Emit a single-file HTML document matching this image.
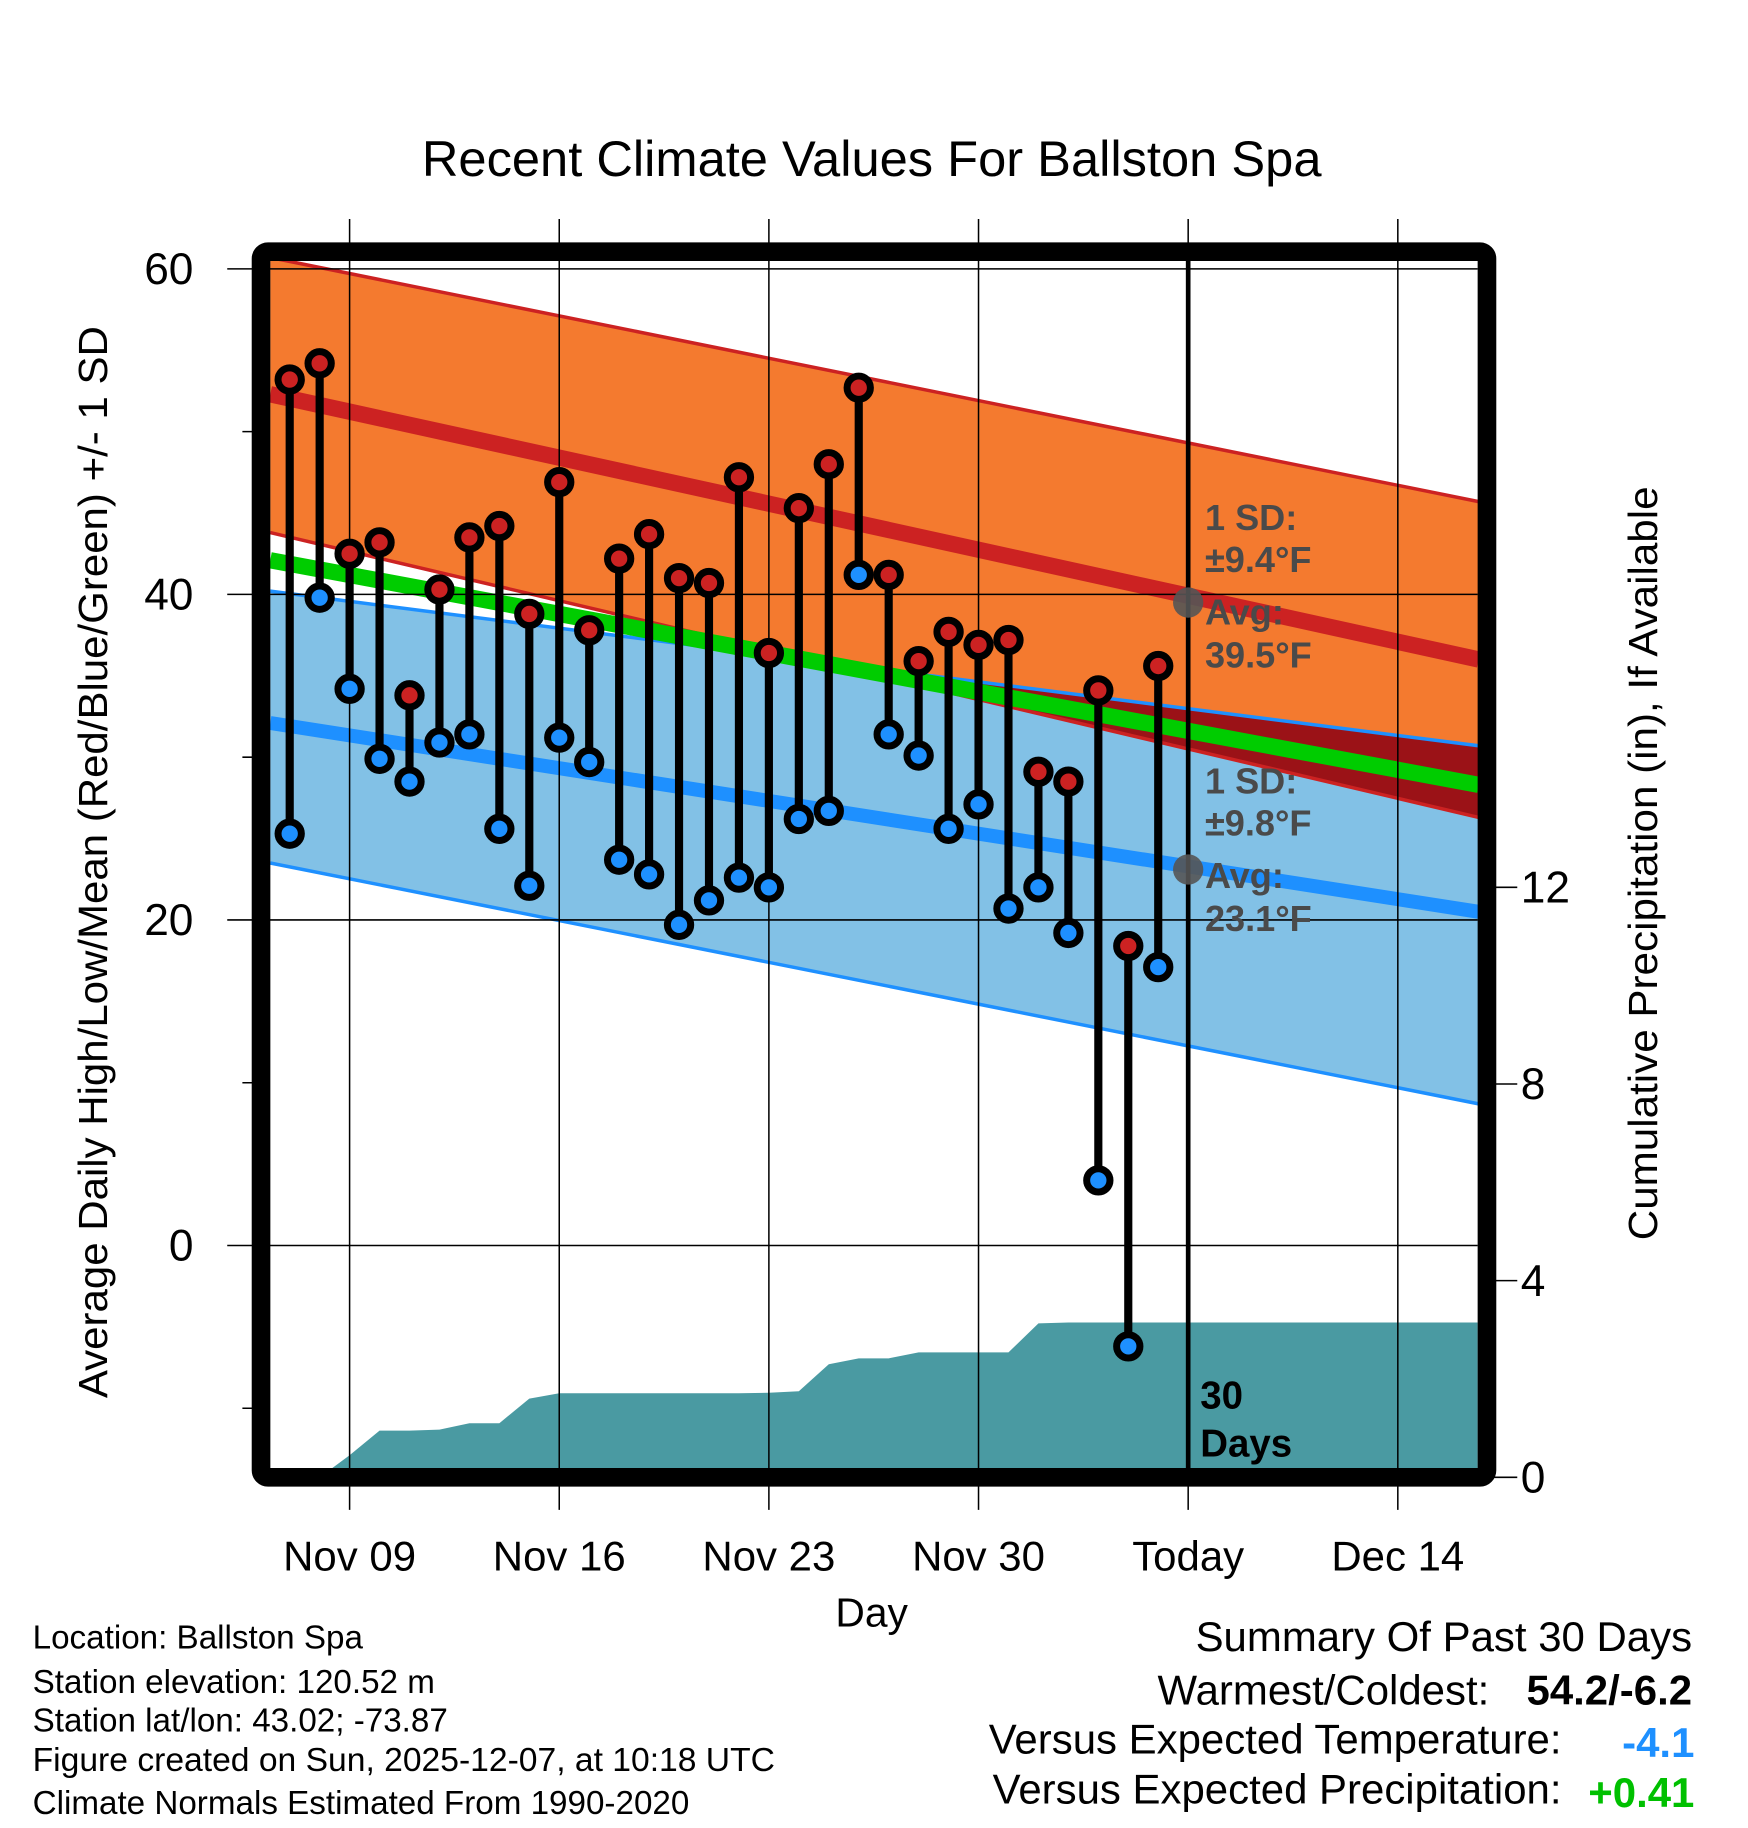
<!DOCTYPE html>
<html><head><meta charset="utf-8"><style>html,body{margin:0;padding:0;background:#fff}svg{display:block}text{font-family:"Liberation Sans",sans-serif}</style></head>
<body>
<svg id="chart" width="1748" height="1828" viewBox="0 0 1500 1569" preserveAspectRatio="none" xmlns="http://www.w3.org/2000/svg">
<text x="748" y="151" font-size="43" text-anchor="middle" textLength="772" lengthAdjust="spacingAndGlyphs">Recent Climate Values For Ballston Spa</text>
<g id="plot"></g>
<text transform="translate(92,740) rotate(-90)" font-size="35" text-anchor="middle" textLength="920" lengthAdjust="spacingAndGlyphs">Average Daily High/Low/Mean (Red/Blue/Green) +/- 1 SD</text>
<text transform="translate(1422,741) rotate(-90)" font-size="35" text-anchor="middle" textLength="647" lengthAdjust="spacingAndGlyphs">Cumulative Precipitation (in), If Available</text>
<text x="748" y="1396" font-size="35" text-anchor="middle">Day</text>
<g font-size="28.5">
<text x="28" y="1415">Location: Ballston Spa</text>
<text x="28" y="1453">Station elevation: 120.52 m</text>
<text x="28" y="1486">Station lat/lon: 43.02; -73.87</text>
<text x="28" y="1520" textLength="637" lengthAdjust="spacingAndGlyphs">Figure created on Sun, 2025-12-07, at 10:18 UTC</text>
<text x="28" y="1557">Climate Normals Estimated From 1990-2020</text>
</g>
<g font-size="36">
<text x="1452" y="1417" text-anchor="end">Summary Of Past 30 Days</text>
<text x="1278" y="1463" text-anchor="end">Warmest/Coldest:</text>
<text x="1452" y="1463" text-anchor="end" font-weight="bold">54.2/-6.2</text>
<text x="1340" y="1505" text-anchor="end">Versus Expected Temperature:</text>
<text x="1454" y="1508" text-anchor="end" font-weight="bold" fill="#1e90ff">-4.1</text>
<text x="1340" y="1548" text-anchor="end">Versus Expected Precipitation:</text>
<text x="1454" y="1551" text-anchor="end" font-weight="bold" fill="#00c000">+0.41</text>
</g>
</svg>
<script>
const highs=[53.2,54.2,42.5,43.2,33.8,40.3,43.5,44.2,38.8,46.9,37.8,42.2,43.7,41.0,40.7,47.2,36.4,45.3,48.0,52.7,41.2,35.9,37.7,36.9,37.2,29.1,28.5,34.1,18.4,35.6];
const lows=[25.3,39.8,34.2,29.9,28.5,30.9,31.4,25.6,22.1,31.2,29.7,23.7,22.8,19.7,21.2,22.6,22.0,26.2,26.7,41.2,31.4,30.1,25.6,27.1,20.7,22.0,19.2,4.0,-6.2,17.1];
const precip=[0,0,0.45,0.95,0.95,0.97,1.1,1.1,1.6,1.71,1.71,1.71,1.71,1.71,1.71,1.71,1.72,1.75,2.3,2.42,2.42,2.54,2.54,2.54,2.54,3.13,3.15,3.15,3.15,3.15];
const firstDay=-2;
const normDays=[-2.65,37.7];
const redUpper=[60.7,45.7];
const redMean=[52.3,36.0];
const redLower=[43.8,26.3];
const greenMean=[42.1,28.3];
const blueUpper=[40.2,30.7];
const blueMean=[32.1,20.5];
const blueLower=[23.5,8.7];
const xTickDays=[0,7,14,21,28,35];
const xTickLabels=["Nov 09","Nov 16","Nov 23","Nov 30","Today","Dec 14"];
const yTicks=[0,20,40,60];
const yMinor=[-10,10,30,50];
const pTicks=[0,4,8,12];
const todayDay=28;
const sdHigh="±9.4", avgHigh="39.5", sdLow="±9.8", avgLow="23.1";

const NS="http://www.w3.org/2000/svg";
const X0=232,X1=1268,Y0=224,Y1=1260;
const xS=d=>300+d*25.7;
const yS=v=>1069-v*13.97;
const pS=p=>1268-p*42.2;
const g=document.getElementById('plot');
function mk(t,a,parent){const e=document.createElementNS(NS,t);for(const k in a)e.setAttribute(k,a[k]);(parent||g).appendChild(e);return e;}
function pts(arr){return normDays.map((d,i)=>xS(d)+','+yS(arr[i]));}
function band(up,lo,fill,name){const e=mk('polygon',{points:pts(up).concat(pts(lo).reverse()).join(' '),fill:fill});

}
function line(arr,color,w,name){const e=mk('polyline',{points:pts(arr).join(' '),stroke:color,'stroke-width':w,fill:'none'});

}
band(redUpper,redLower,'#f47a2f','high-sd-band');
band(blueUpper,blueLower,'#82c1e6','low-sd-band');
(function(){const a=(blueUpper[1]-blueUpper[0])/(normDays[1]-normDays[0]),b=(redLower[1]-redLower[0])/(normDays[1]-normDays[0]);
const dc=normDays[0]+(redLower[0]-blueUpper[0])/(a-b);
if(dc<normDays[1]){const p=[[dc,blueUpper[0]+a*(dc-normDays[0])],[normDays[1],blueUpper[1]],[normDays[1],redLower[1]]];
const e=mk('polygon',{points:p.map(q=>xS(q[0])+','+yS(q[1])).join(' '),fill:'#9b1217'});

}})();
line(redUpper,'#cc2222',3,'high-upper-sd');
line(redLower,'#cc2222',3,'high-lower-sd');
line(blueUpper,'#1e90ff',3,'low-upper-sd');
line(blueLower,'#1e90ff',3,'low-lower-sd');
line(redMean,'#cc2222',14,'avg-high-line');
line(blueMean,'#1e90ff',12,'avg-low-line');
line(greenMean,'#00cc00',14,'avg-mean-line');
(function(){let p=[X0+','+Y1,X0+','+pS(precip[0])];precip.forEach((v,i)=>p.push(xS(firstDay+i)+','+pS(v)));
p.push(X1+','+pS(precip[precip.length-1]));p.push(X1+','+Y1);
const e=mk('polygon',{points:p.join(' '),fill:'#4a9aa2'});

})();
xTickDays.forEach((d,i)=>{const e=mk('line',{x1:xS(d),x2:xS(d),y1:188,y2:1296,stroke:'#000','stroke-width':1.3});


const t=mk('text',{x:xS(d),y:1348,'font-size':36,'text-anchor':'middle'});t.textContent=xTickLabels[i];

});
yTicks.forEach(v=>{const e=mk('line',{x1:195,x2:X1,y1:yS(v),y2:yS(v),stroke:'#000','stroke-width':1.3});


const t=mk('text',{x:166,y:yS(v)+13,'font-size':38,'text-anchor':'end'});t.textContent=v;

});
yMinor.forEach(v=>{const e=mk('line',{x1:208,x2:224,y1:yS(v),y2:yS(v),stroke:'#000','stroke-width':1.3});

});
pTicks.forEach(p=>{const e=mk('line',{x1:1276,x2:1302,y1:pS(p),y2:pS(p),stroke:'#000','stroke-width':1.3});


const t=mk('text',{x:1305,y:pS(p)+13,'font-size':38});t.textContent=p;

});
(function(){const e=mk('line',{x1:xS(todayDay),x2:xS(todayDay),y1:Y0,y2:Y1,stroke:'#000','stroke-width':4});

})();
highs.forEach((h,i)=>{const x=xS(firstDay+i);
const s=mk('line',{x1:x,x2:x,y1:yS(h),y2:yS(lows[i]),stroke:'#000','stroke-width':7});

});
highs.forEach((h,i)=>{const x=xS(firstDay+i);
[[lows[i],'#1e90ff','low-point'],[h,'#cc2222','high-point']].forEach(q=>{
const c=mk('circle',{cx:x,cy:yS(q[0]),r:10,fill:q[1],stroke:'#000','stroke-width':6});

});});
[[avgHigh,sdHigh,455],[avgLow,sdLow,681]].forEach((q,k)=>{
const c=mk('circle',{cx:xS(todayDay),cy:yS(parseFloat(q[0])),r:13,fill:'#555','fill-opacity':0.9});


const t=mk('text',{x:1034,y:q[2],'font-size':31,'font-weight':'bold',fill:'#4a4a4a'});


const lines=['1 SD:',q[1]+'°F','Avg:',q[0]+'°F'];const dy=[0,36,81,118];
lines.forEach((s,j)=>{const ts=mk('tspan',{x:1034,y:q[2]+dy[j]},t);ts.textContent=s;});});
(function(){const t=mk('text',{x:1030,y:1209,'font-size':33,'font-weight':'bold'});


const a=mk('tspan',{x:1030,y:1209},t);a.textContent='30';const b=mk('tspan',{x:1030,y:1250},t);b.textContent='Days';})();
(function(){const e=mk('rect',{x:224,y:216,width:1052,height:1052,fill:'none',stroke:'#000','stroke-width':16,rx:6});

})();
</script>
</body></html>
